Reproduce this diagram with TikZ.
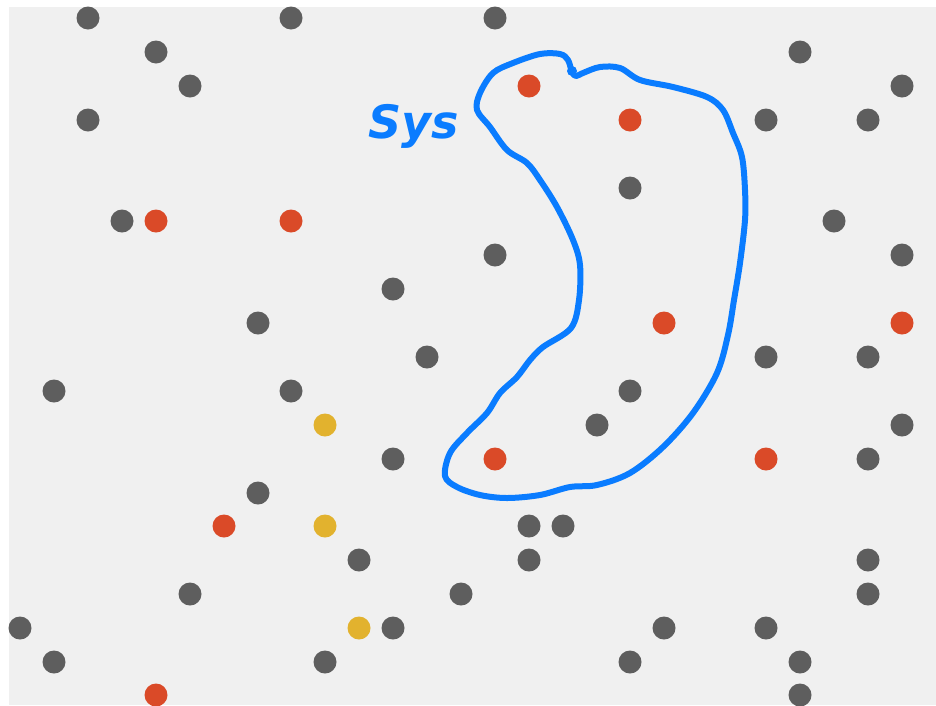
\documentclass[tikz,border=0pt]{standalone}
\usepackage{fontspec}
\setsansfont{DejaVu Sans}
\definecolor{bgc}{HTML}{F0F0F0}
\definecolor{gdot}{HTML}{5E5E5E}
\definecolor{rdot}{HTML}{DA4A28}
\definecolor{ydot}{HTML}{E2B22E}
\definecolor{ink}{HTML}{0A7CFF}
\tikzset{
  dotg/.style={circle,fill=gdot,minimum size=23pt,inner sep=0pt},
  dotr/.style={circle,fill=rdot,minimum size=23pt,inner sep=0pt},
  doty/.style={circle,fill=ydot,minimum size=23pt,inner sep=0pt},
  pen/.style={draw=ink,line width=6pt,line cap=round,line join=round}
}
\begin{document}
\begin{tikzpicture}[x=1pt,y=-1pt]
\useasboundingbox (0,0) rectangle (936,705);
\fill[white] (0,0) rectangle (936,705);
\fill[bgc] (9,7) rectangle (936,705);
% gray dots
\foreach \x/\y [count=\i] in {88/18,291/18,495/18,156/52,800/52,190/86,902/86,88/120,766/120,868/120,630/188,122/221,834/221,495/255,902/255,393/289,258/323,427/357,766/357,868/357,54/391,291/391,630/391,597/425,902/425,393/459,868/459,258/493,529/526,563/526,359/560,529/560,868/560,190/594,461/594,868/594,20/628,393/628,664/628,766/628,54/662,325/662,630/662,800/662,800/695}
  \node[dotg] (g\i) at (\x,\y) {};
% red dots
\foreach \x/\y [count=\i] in {529/86,630/120,156/221,291/221,664/323,902/323,495/459,766/459,224/526,156/695}
  \node[dotr] (r\i) at (\x,\y) {};
% yellow dots
\foreach \x/\y [count=\i] in {325/425,325/526,359/628}
  \node[doty] (y\i) at (\x,\y) {};
% system outline
\draw[pen] plot[smooth cycle,tension=0.55] coordinates {
 (572,72) (568,60) (560,54) (540,54) (513,63) (493,73) (480,93) (477,110)
 (490,127) (507,150) (527,163) (540,180) (557,207) (573,240) (580,265)
 (579,300) (571,328) (543,347) (530,360) (517,377) (500,393) (487,413)
 (467,433) (450,453) (445,476) (457,487) (480,495) (507,498) (540,495)
 (570,487) (597,485) (630,473) (663,447) (693,413) (717,373) (728,335)
 (734,300) (740,263) (745,220) (745,190) (742,157) (733,133) (723,110)
 (707,97) (673,87) (640,80) (620,68) (600,67) (583,73) (576,76)};
\fill[ink] (572,71) circle (5pt);
\node[text=ink,font=\sffamily\bfseries\itshape\fontsize{46}{46}\selectfont] (sys) at (414,126) {Sys};
\end{tikzpicture}
\end{document}
